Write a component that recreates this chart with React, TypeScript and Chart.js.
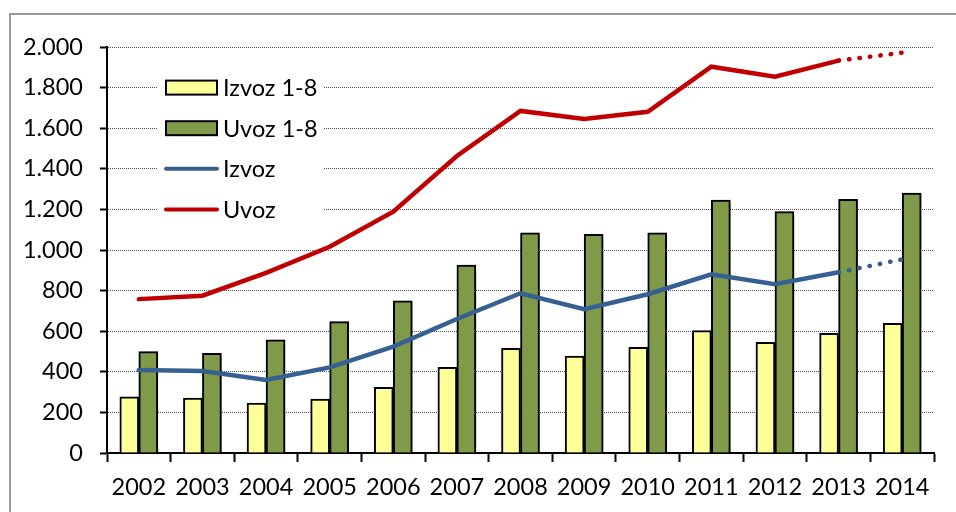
import { useEffect, useRef } from "react";
import { Chart, registerables } from "chart.js";

Chart.register(...registerables);

const years = ["2002", "2003", "2004", "2005", "2006", "2007", "2008", "2009", "2010", "2011", "2012", "2013", "2014"];
const izvoz18 = [277, 271, 246, 266, 324, 422, 516, 478, 521, 603, 545, 590, 639];
const uvoz18 = [499, 491, 557, 647, 750, 926, 1085, 1077, 1085, 1246, 1189, 1250, 1281];
const izvoz = [409, 404, 360, 422, 524, 660, 787, 708, 782, 880, 831, 890, 954];
const uvoz = [758, 775, 887, 1016, 1189, 1463, 1685, 1645, 1681, 1903, 1854, 1933, 1972];
const legendLabels = ["Izvoz 1-8", "Uvoz 1-8", "Izvoz", "Uvoz"];
const legendRows = [1800, 1600, 1400, 1200];

const FONT = "Lato";
const YELLOW = "#FFFF99";
const GREEN = "#7F9A48";
const BLUE = "#376092";
const RED = "#C00000";

const dotted = (ctx: any) => (ctx.p0DataIndex >= 11 ? [0.5, 10] : undefined);

export default function App() {
  const ref = useRef<HTMLCanvasElement>(null);
  useEffect(() => {
    if (!ref.current) return;
    const framePlugin = {
      id: "frame",
      beforeDraw(chart: any) {
        const c = chart.ctx;
        c.save();
        c.fillStyle = "#fff";
        c.fillRect(0, 0, chart.width, chart.height);
        c.strokeStyle = "#9a9a9a";
        c.lineWidth = 2;
        c.strokeRect(10, 14, 960, 520);
        c.restore();
      },
    };
    const shadowPlugin = {
      id: "barShadow",
      beforeDatasetDraw(chart: any, args: any) {
        if (args.index !== 1) return;
        const c = chart.ctx;
        c.save();
        c.shadowColor = "rgba(0,0,0,0.35)";
        c.shadowBlur = 6;
        c.shadowOffsetX = 4;
        c.shadowOffsetY = 2;
      },
      afterDatasetDraw(chart: any, args: any) {
        if (args.index !== 1) return;
        chart.ctx.restore();
      },
    };
    const legendPlugin = {
      id: "innerLegend",
      afterDatasetsDraw(chart: any) {
        const c = chart.ctx;
        const ys = chart.scales.y;
        c.save();
        c.fillStyle = "#fff";
        const top = ys.getPixelForValue(legendRows[0]) - 16;
        const bot = ys.getPixelForValue(legendRows[3]) + 16;
        c.fillRect(157, top, 167, bot - top);
        legendRows.forEach((v, i) => {
          const y = ys.getPixelForValue(v);
          if (i < 2) {
            c.fillStyle = i === 0 ? YELLOW : GREEN;
            c.fillRect(166, y - 7, 51, 14);
            c.strokeStyle = "#000";
            c.lineWidth = 2;
            c.strokeRect(166, y - 7, 51, 14);
          } else {
            c.strokeStyle = i === 2 ? BLUE : RED;
            c.lineWidth = 4;
            c.lineCap = "round";
            c.beginPath();
            c.moveTo(166, y);
            c.lineTo(217, y);
            c.stroke();
          }
          c.fillStyle = "#000";
          c.font = `23.5px ${FONT}`;
          c.textBaseline = "middle";
          c.textAlign = "left";
          c.fillText(legendLabels[i], 223, y + 1);
        });
        c.restore();
      },
    };
    const chart = new Chart(ref.current, {
      type: "bar",
      data: {
        labels: years,
        datasets: [
          {
            type: "bar",
            label: legendLabels[0],
            data: izvoz18,
            backgroundColor: YELLOW,
            borderColor: "#000",
            borderWidth: 2,
            barThickness: 19,
            order: 1,
          },
          {
            type: "bar",
            label: legendLabels[1],
            data: uvoz18,
            backgroundColor: GREEN,
            borderColor: "#000",
            borderWidth: 2,
            barThickness: 19,
            order: 2,
          },
          {
            type: "line",
            label: legendLabels[2],
            data: izvoz,
            borderColor: BLUE,
            backgroundColor: BLUE,
            borderWidth: 4.5,
            borderCapStyle: "round",
            pointRadius: 0,
            tension: 0,
            segment: { borderDash: dotted },
            order: 0,
          } as any,
          {
            type: "line",
            label: legendLabels[3],
            data: uvoz,
            borderColor: RED,
            backgroundColor: RED,
            borderWidth: 4.5,
            borderCapStyle: "round",
            pointRadius: 0,
            tension: 0,
            segment: { borderDash: dotted },
            order: 0,
          } as any,
        ],
      },
      options: {
        responsive: false,
        animation: false,
        layout: { padding: { top: 47, right: 22, left: 0, bottom: 0 } },
        plugins: { legend: { display: false }, tooltip: { enabled: false } },
        scales: {
          x: {
            offset: true,
            grid: {
              offset: true,
              drawOnChartArea: false,
              drawTicks: true,
              tickLength: 9,
              tickColor: "#000",
              tickWidth: 2,
            },
            border: { color: "#000", width: 2 },
            ticks: {
              color: "#000",
              font: { family: FONT, size: 23.5 },
              padding: 11,
            },
            afterFit: (s: any) => {
              s.height = 59;
            },
          },
          y: {
            min: 0,
            max: 2000,
            ticks: {
              stepSize: 200,
              color: "#000",
              font: { family: FONT, size: 23.5 },
              padding: 17,
              callback: (v: any) => Number(v).toLocaleString("de-DE"),
            },
            grid: {
              color: "#555",
              lineWidth: 1,
              tickColor: "#000",
              tickWidth: 2,
              tickLength: 7,
              tickBorderDash: [],
            } as any,
            border: { color: "#000", width: 2, dash: [1, 1] } as any,
            afterFit: (s: any) => {
              s.width = 107;
            },
          },
        },
      },
      plugins: [framePlugin, shadowPlugin, legendPlugin],
    } as any);
    return () => chart.destroy();
  }, []);
  return (
    <div style={{ position: "absolute", left: 0, top: 0, width: 956, height: 512 }}>
      <canvas ref={ref} width={956} height={512} style={{ width: 956, height: 512 }} />
    </div>
  );
}
